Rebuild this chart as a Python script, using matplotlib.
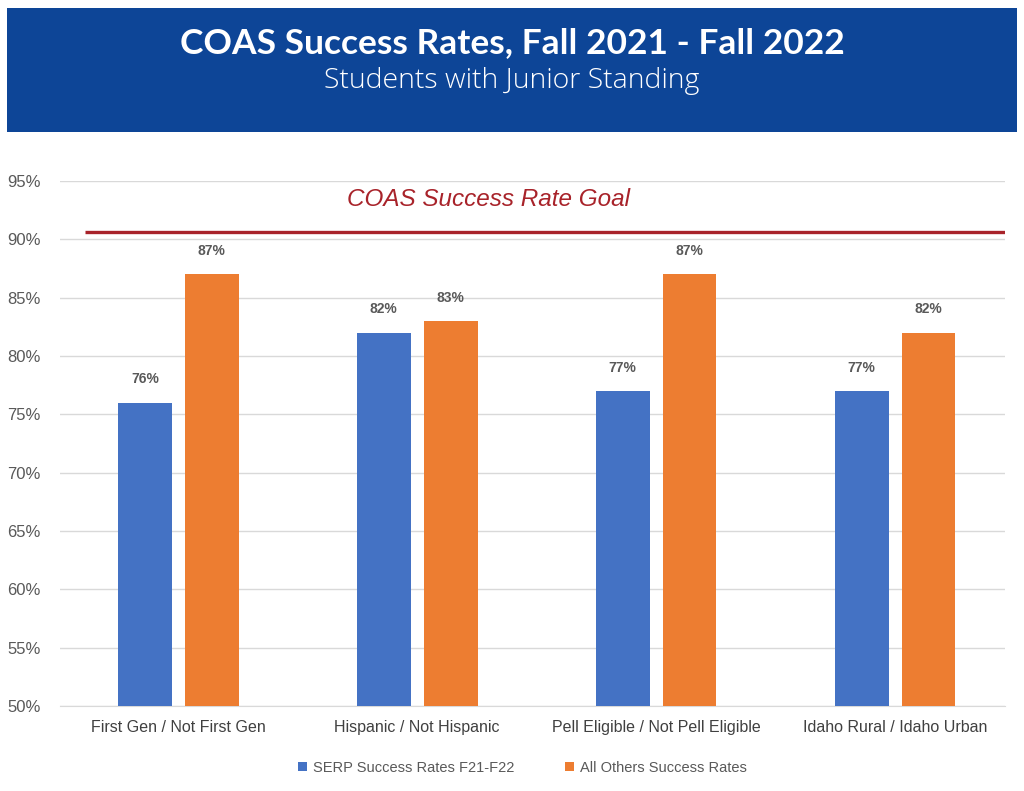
import matplotlib.pyplot as plt
from matplotlib.patches import Rectangle
import numpy as np

categories = ["First Gen / Not First Gen", "Hispanic / Not Hispanic",
              "Pell Eligible / Not Pell Eligible", "Idaho Rural / Idaho Urban"]
serp = [76, 82, 77, 77]
others = [87, 83, 87, 82]
goal = 90.6
yticks = [50, 55, 60, 65, 70, 75, 80, 85, 90, 95]

plt.rcParams["font.family"] = ["Liberation Sans Narrow", "Liberation Sans", "DejaVu Sans"]

fig = plt.figure(figsize=(10.24, 7.91), dpi=100)

# header box
fig.patches.append(Rectangle((7 / 1024, 1 - 132 / 791), 1010 / 1024, 124 / 791,
                             transform=fig.transFigure, facecolor="#0D4597",
                             edgecolor="none", zorder=0))
fig.text(0.5, 1 - 43 / 791, "COAS Success Rates, Fall 2021 - Fall 2022",
         ha="center", va="center", color="white", fontsize=25.5, fontweight="bold",
         family=["Lato", "DejaVu Sans"])
fig.text(0.5, 1 - 81 / 791, "Students with Junior Standing",
         ha="center", va="center", color="white", fontsize=20.5, fontweight="light",
         family=["Open Sans", "DejaVu Sans"])

ax = fig.add_axes([60 / 1024, 1 - 706 / 791, 945 / 1024, 525 / 791])
x = np.arange(len(categories))
w = 0.225
b1 = ax.bar(x - 0.14, serp, w, color="#4472C4", label="SERP Success Rates F21-F22", zorder=3)
b2 = ax.bar(x + 0.14, others, w, color="#ED7D31", label="All Others Success Rates", zorder=3)
for bars, vals in ((b1, serp), (b2, others)):
    for r, v in zip(bars, vals):
        ax.text(r.get_x() + r.get_width() / 2, v + 1.4, f"{v}%", ha="center",
                va="bottom", fontsize=10, color="#595959", fontweight="bold",
                family=["Liberation Sans", "DejaVu Sans"])

ax.hlines(goal, -0.39, 3.46, color="#A8232A", linewidth=2.4, zorder=4)
ax.text(1.3, 93.4, "COAS Success Rate Goal", ha="center", va="center",
        color="#A8232A", fontsize=17.5, style="italic",
        family=["Liberation Sans", "DejaVu Sans"])

ax.set_xlim(-0.495, 3.46)
ax.set_ylim(50, 95)
ax.set_yticks(yticks)
ax.set_yticklabels([f"{t}%" for t in yticks], color="#595959", fontsize=12)
ax.set_xticks(x)
ax.set_xticklabels(categories, fontsize=11.5, color="#404040")
ax.tick_params(axis="y", length=0, pad=14)
ax.tick_params(axis="x", length=0, pad=10)
ax.grid(axis="y", color="#D9D9D9", linewidth=1, zorder=0)
for s in ["top", "right", "left"]:
    ax.spines[s].set_visible(False)
ax.spines["bottom"].set_color("#D9D9D9")

fig.legend(loc="center", bbox_to_anchor=(0.51, 1 - 768 / 791), ncol=2,
           frameon=False, fontsize=10.5, handlelength=0.6, handleheight=0.6,
           columnspacing=3.5, handletextpad=0.4, labelcolor="#595959")

plt.savefig("out.png", dpi=100)
